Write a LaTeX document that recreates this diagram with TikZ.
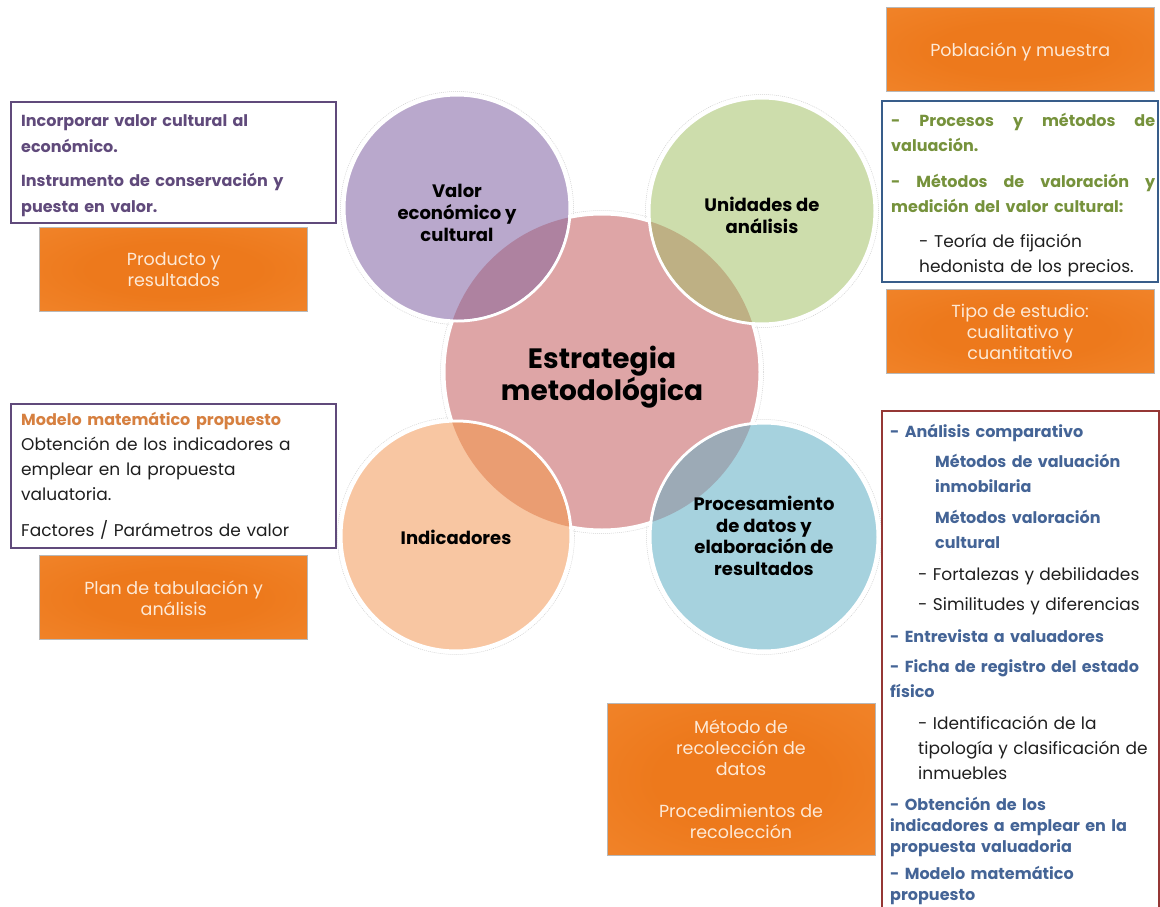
\documentclass[tikz,border=0pt]{standalone}
\usepackage{fontspec}
\setmainfont{Poppins}
\usetikzlibrary{positioning, calc}

\definecolor{cPink}{RGB}{222,165,166}
\definecolor{cPurple}{RGB}{185,168,204}
\definecolor{cGreen}{RGB}{205,221,172}
\definecolor{cPeach}{RGB}{248,198,162}
\definecolor{cBlue}{RGB}{166,210,222}
\definecolor{oPurple}{RGB}{174,130,160}
\definecolor{oGreen}{RGB}{190,176,132}
\definecolor{oPeach}{RGB}{234,157,114}
\definecolor{oBlue}{RGB}{156,170,182}
\definecolor{purpleline}{RGB}{96,74,123}
\definecolor{blueline}{RGB}{56,93,138}
\definecolor{redline}{RGB}{149,55,53}
\definecolor{greentext}{RGB}{118,146,60}
\definecolor{bluetext}{RGB}{68,100,150}
\definecolor{orangetext}{RGB}{214,128,64}
\definecolor{txtBlack}{RGB}{30,30,30}
\definecolor{oIn}{RGB}{237,121,28}
\definecolor{oMid}{RGB}{242,135,46}
\definecolor{oOut}{RGB}{249,156,78}
\definecolor{oTxt}{RGB}{253,233,214}
\pgfdeclareradialshading{orangeglow}{\pgfpoint{0bp}{0bp}}{color(0bp)=(oIn); color(16bp)=(oIn); color(44bp)=(oMid); color(72bp)=(oOut)}

\begin{document}
\begin{tikzpicture}[x=1pt,y=-1pt,every node/.style={inner sep=0pt,font=\fontsize{17}{25}\selectfont},
  bubble/.style={circle,draw=white,line width=3pt},
  bubbletext/.style={align=center,text=black,font=\bfseries\fontsize{18}{22}\selectfont},
  halo/.style={black!18,line width=0.5pt,dash pattern=on 1pt off 1pt},
  linebox/.style={rectangle,line width=2.4pt,align=left,inner xsep=9pt,text width=#1},
  orangebox/.style={rectangle,shading=orangeglow,draw=black!28,line width=0.6pt,
    minimum width=268pt,minimum height=84pt,text=oTxt,align=center,font=\fontsize{17.5}{21}\selectfont},
]
\path[use as bounding box,clip] (0,0) rectangle (1160,907);

\foreach \x/\y/\r in {602/372/158, 457/208/113, 762/211/113, 456/536/115, 764/537/114}
  \draw[halo] (\x,\y) circle[radius=\r pt+3.5pt];

\node[bubble,fill=cPink,minimum size=316pt] (nE) at (602,372) {};

\foreach \n/\x/\y/\r/\c/\o in {nV/457/208/113/cPurple/oPurple, nU/762/211/113/cGreen/oGreen,
                               nI/456/536/115/cPeach/oPeach, nP/764/537/114/cBlue/oBlue} {
  \node[bubble,fill=\c,minimum size=2*\r pt] (\n) at (\x,\y) {};
  \begin{scope}
    \clip (nE.center) circle[radius=158pt];
    \fill[\o] (\n.center) circle[radius=\r pt-1.5pt];
  \end{scope}
}

\node[bubbletext,font=\bfseries\fontsize{28}{32}\selectfont] (lE) at (602,377) {Estrategia\\ metodológica};
\node[bubbletext] (lV) at (457,213) {Valor\\ económico y\\ cultural};
\node[bubbletext] (lU) at (762,215) {Unidades de\\ análisis};
\node[bubbletext] (lI) at (456,537) {Indicadores};
\node[bubbletext,font=\bfseries\fontsize{18}{21.5}\selectfont] (lP) at (764,536) {Procesamiento\\ de datos y\\ elaboración de\\ resultados};

% left side
\node[linebox=305pt,draw=purpleline,text=purpleline,minimum width=325pt,minimum height=121pt,anchor=north west,
  font=\bfseries\fontsize{16}{26}\selectfont] (bV) at (10,101)
  {Incorporar valor cultural al\\ económico.\\[8pt] Instrumento de conservación y\\ puesta en valor.\par\vspace{-7pt}};
\node[orangebox,below=3pt of bV] (oV) {Producto y\\ resultados};

\node[linebox=305pt,draw=purpleline,text=txtBlack,minimum width=325pt,minimum height=144pt,anchor=north west] (bI) at (10,403)
  {{\color{orangetext}\bfseries\fontsize{16}{25}\selectfont Modelo matemático propuesto}\\ Obtención de los indicadores a\\ emplear en la propuesta\\
   valuatoria.\\[11pt] Factores / Parámetros de valor};
\node[orangebox,below=6pt of bI] (oI) {Plan de tabulación y\\ análisis};

% right side
\node[linebox=258pt,draw=blueline,text=txtBlack,minimum width=276pt,minimum height=181pt,anchor=north west] (bU) at (881,100)
  {{\color{greentext}\bfseries\fontsize{16}{25}\selectfont\makebox[264pt][s]{-\hfill Procesos\hfill y\hfill métodos\hfill de}\\ valuación.\\[11pt]
   \makebox[264pt][s]{-\hfill Métodos\hfill de\hfill valoración\hfill y}\\ medición del valor cultural:}\\[10pt]
   \hspace*{28pt}- Teoría de fijación\\ \hspace*{28pt}hedonista de los precios.\par\vspace{-6pt}};
\node[orangebox,above=8pt of bU,text depth=-2pt] (oN) {Población y muestra};
\node[orangebox,below=6pt of bU] (oU) {Tipo de estudio:\\ cualitativo y\\ cuantitativo};

\node[draw=redline,line width=2.4pt,minimum width=277pt,minimum height=520pt,anchor=north west] (bP) at (881,410) {};
\node[anchor=north west,text width=270pt,align=left,text=bluetext,font=\bfseries\fontsize{16}{25}\selectfont] (tP)
  at ([xshift=9pt,yshift=-14pt]bP.north west)
  {- Análisis comparativo\\[5pt]
   \hspace*{45pt}Métodos de valuación\\
   \hspace*{45pt}inmobilaria\\[6pt]
   \hspace*{45pt}Métodos valoración\\
   \hspace*{45pt}cultural\\[7pt]
   {\mdseries\fontsize{17}{25}\selectfont\color{txtBlack}\hspace*{28pt}- Fortalezas y debilidades}\\[5pt]
   {\mdseries\fontsize{17}{25}\selectfont\color{txtBlack}\hspace*{28pt}- Similitudes y diferencias}\\[7pt]
   - Entrevista a valuadores\\[5pt]
   - Ficha de registro del estado\\
   físico\\[7pt]
   {\mdseries\fontsize{17}{25}\selectfont\color{txtBlack}\hspace*{28pt}- Identificación de la}\\
   {\mdseries\fontsize{17}{25}\selectfont\color{txtBlack}\hspace*{28pt}tipología y clasificación de}\\
   {\mdseries\fontsize{17}{25}\selectfont\color{txtBlack}\hspace*{28pt}inmuebles}\\[6pt]
   - Obtención de los\\[-4pt]
   indicadores a emplear en la\\[-4pt]
   propuesta valuadoria\\[2pt]
   - Modelo matemático\\[-4pt]
   propuesto};

\node[orangebox,minimum height=152pt] (oP) at (741,779)
  {Método de\\ recolección de\\ datos\\[21pt] Procedimientos de\\ recolección};
\end{tikzpicture}
\end{document}
